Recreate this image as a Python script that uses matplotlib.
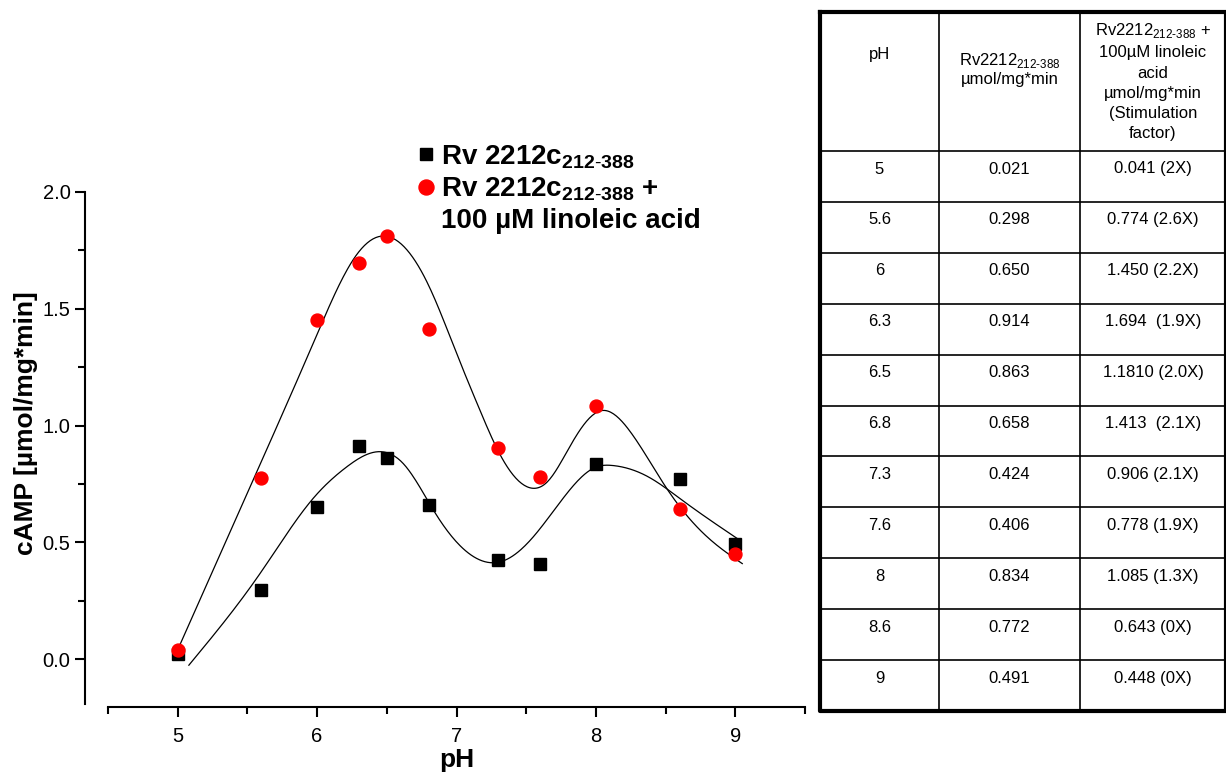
# cAMP production of Rv2212c(212-388) vs pH, with and without linoleic acid, plus summary table

import matplotlib
matplotlib.use("Agg")
import matplotlib.pyplot as plt
from matplotlib.ticker import MultipleLocator, FormatStrFormatter
from matplotlib.lines import Line2D
import numpy as np

plt.rcParams['font.family'] = ['Liberation Sans', 'DejaVu Sans']
plt.rcParams['mathtext.fontset'] = 'custom'
plt.rcParams['mathtext.rm'] = 'Liberation Sans'
plt.rcParams['mathtext.bf'] = 'Liberation Sans:bold'

ph = [5, 5.6, 6, 6.3, 6.5, 6.8, 7.3, 7.6, 8, 8.6, 9]
rv_only = [0.021, 0.298, 0.650, 0.914, 0.863, 0.658, 0.424, 0.406, 0.834, 0.772, 0.491]
rv_linoleic = [0.041, 0.774, 1.450, 1.694, 1.810, 1.413, 0.906, 0.778, 1.085, 0.643, 0.448]

# fitted curves (points along the fit line)
fit_x_rv = [5.08, 5.59, 5.97, 6.21, 6.41, 6.62, 6.85, 7.09, 7.31, 7.55, 7.79, 8.0, 8.12, 8.38, 8.62, 9.04]
fit_y_rv = [-0.026, 0.366, 0.687, 0.822, 0.886, 0.836, 0.623, 0.452, 0.416, 0.523, 0.708, 0.822, 0.829, 0.779, 0.68, 0.506]
fit_x_lin = [5.0, 5.54, 5.99, 6.27, 6.45, 6.8, 7.0, 7.165, 7.3, 7.54, 7.65, 7.81, 8.04, 8.24, 8.51, 8.81, 9.05]
fit_y_lin = [0.04, 0.765, 1.377, 1.72, 1.81, 1.60, 1.31, 1.07, 0.89, 0.732, 0.758, 0.907, 1.064, 0.979, 0.729, 0.517, 0.409]

table_ph = ["5", "5.6", "6", "6.3", "6.5", "6.8", "7.3", "7.6", "8", "8.6", "9"]
table_rv = ["0.021", "0.298", "0.650", "0.914", "0.863", "0.658", "0.424", "0.406", "0.834", "0.772", "0.491"]
table_lin = ["0.041 (2X)", "0.774 (2.6X)", "1.450 (2.2X)", "1.694  (1.9X)", "1.1810 (2.0X)", "1.413  (2.1X)",
             "0.906 (2.1X)", "0.778 (1.9X)", "1.085 (1.3X)", "0.643 (0X)", "0.448 (0X)"]


def spline(xk, yk, n=400):
    # natural cubic spline through the given points
    xk = np.asarray(xk, float)
    yk = np.asarray(yk, float)
    k = len(xk)
    h = np.diff(xk)
    A = np.zeros((k, k))
    b = np.zeros(k)
    A[0, 0] = A[-1, -1] = 1
    for i in range(1, k - 1):
        A[i, i - 1] = h[i - 1]
        A[i, i] = 2 * (h[i - 1] + h[i])
        A[i, i + 1] = h[i]
        b[i] = 6 * ((yk[i + 1] - yk[i]) / h[i] - (yk[i] - yk[i - 1]) / h[i - 1])
    M = np.linalg.solve(A, b)
    xs = np.linspace(xk[0], xk[-1], n)
    j = np.clip(np.searchsorted(xk, xs) - 1, 0, k - 2)
    t1 = xk[j + 1] - xs
    t2 = xs - xk[j]
    hj = h[j]
    ys = (M[j] * t1 ** 3 + M[j + 1] * t2 ** 3) / (6 * hj) \
        + (yk[j] / hj - M[j] * hj / 6) * t1 + (yk[j + 1] / hj - M[j + 1] * hj / 6) * t2
    return xs, ys


fig = plt.figure(figsize=(12.26, 7.76), dpi=100)
ax = fig.add_axes([0.0881, 0.0889, 0.5685, 0.6637])

xs, ys = spline(fit_x_lin, fit_y_lin)
ax.plot(xs, ys, color='black', lw=0.9)
xs, ys = spline(fit_x_rv, fit_y_rv)
ax.plot(xs, ys, color='black', lw=0.9)

ax.plot(ph, rv_only, ls='none', marker='s', ms=8.3, color='black', mec='black')
ax.plot(ph, rv_linoleic, ls='none', marker='o', ms=9.3, color='#ff0000', mec='#ff0000')

ax.set_xlim(4.5, 9.5)
ax.set_ylim(-0.205, 2.0)
for s in ['top', 'right']:
    ax.spines[s].set_visible(False)
ax.spines['left'].set_position(('outward', 16.5))
ax.spines['left'].set_bounds(-0.19, 2.0)
ax.spines['left'].set_linewidth(1.5)
ax.spines['bottom'].set_linewidth(1.5)

ax.xaxis.set_major_locator(MultipleLocator(1))
ax.xaxis.set_minor_locator(MultipleLocator(0.5))
ax.yaxis.set_major_locator(MultipleLocator(0.5))
ax.yaxis.set_minor_locator(MultipleLocator(0.25))
ax.yaxis.set_major_formatter(FormatStrFormatter('%.1f'))
ax.tick_params(which='major', direction='out', length=7.5, width=1.5, labelsize=14.5)
ax.tick_params(which='minor', direction='out', length=5, width=1.5)
ax.tick_params(axis='y', pad=3)
ax.tick_params(axis='x', pad=7)

ax.set_xlabel('pH', fontsize=19, fontweight='bold', labelpad=1)
ax.set_ylabel('cAMP [µmol/mg*min]', fontsize=19, fontweight='bold')
ax.yaxis.set_label_coords(-0.1, 0.552)

blank = Line2D([], [], ls='none')
fig.legend([Line2D([], [], ls='none', marker='s', ms=8.6, color='black'),
            Line2D([], [], ls='none', marker='o', ms=10.8, color='#ff0000'),
            blank],
           [r'Rv 2212c$_{\mathbf{212\text{-}388}}$',
            r'Rv 2212c$_{\mathbf{212\text{-}388}}$ +',
            '100 µM linoleic acid'],
           loc='upper left', bbox_to_anchor=(0.3406, 0.8157), frameon=False,
           handlelength=0.6, handletextpad=0.23, labelspacing=0.16,
           prop={'size': 20, 'weight': 'bold'}, borderaxespad=0, borderpad=0)

# summary table on the right
tx = fig.add_axes([820 / 1226, 1 - 711 / 776, 406 / 1226, 699 / 776])
tx.set_xlim(0, 406)
tx.set_ylim(699, 0)
tx.axis('off')
col_edges = [0, 119, 260, 406]
head_h = 139
row_h = (699 - head_h) / len(table_ph)
for xe in col_edges[1:-1]:
    tx.plot([xe, xe], [0, 699], color='black', lw=1.2, solid_capstyle='butt')
for i in range(1, len(table_ph)):
    yy = head_h + i * row_h
    tx.plot([0, 406], [yy, yy], color='black', lw=1.2)
tx.plot([0, 406], [head_h, head_h], color='black', lw=1.2)
tx.plot([0, 406, 406, 0, 0], [0, 0, 699, 699, 0], color='black', lw=3, clip_on=False)

centers = [(col_edges[i] + col_edges[i + 1]) / 2 for i in range(3)]
tx.text(centers[0], 43, 'pH', ha='center', va='center', fontsize=12)
tx.text(centers[1], 57, 'Rv2212$_{\\mathrm{212\\text{-}388}}$\nµmol/mg*min', ha='center', va='center',
        fontsize=12, linespacing=1.2)
tx.text(centers[2], 9, 'Rv2212$_{\\mathrm{212\\text{-}388}}$ +\n100µM linoleic\nacid\nµmol/mg*min\n(Stimulation\nfactor)',
        ha='center', va='top', fontsize=12, linespacing=1.44)
for i in range(len(table_ph)):
    yc = head_h + i * row_h + 18
    tx.text(centers[0], yc, table_ph[i], ha='center', va='center', fontsize=12)
    tx.text(centers[1], yc, table_rv[i], ha='center', va='center', fontsize=12)
    tx.text(centers[2], yc, table_lin[i], ha='center', va='center', fontsize=12)

plt.savefig('out.png', dpi=100)
